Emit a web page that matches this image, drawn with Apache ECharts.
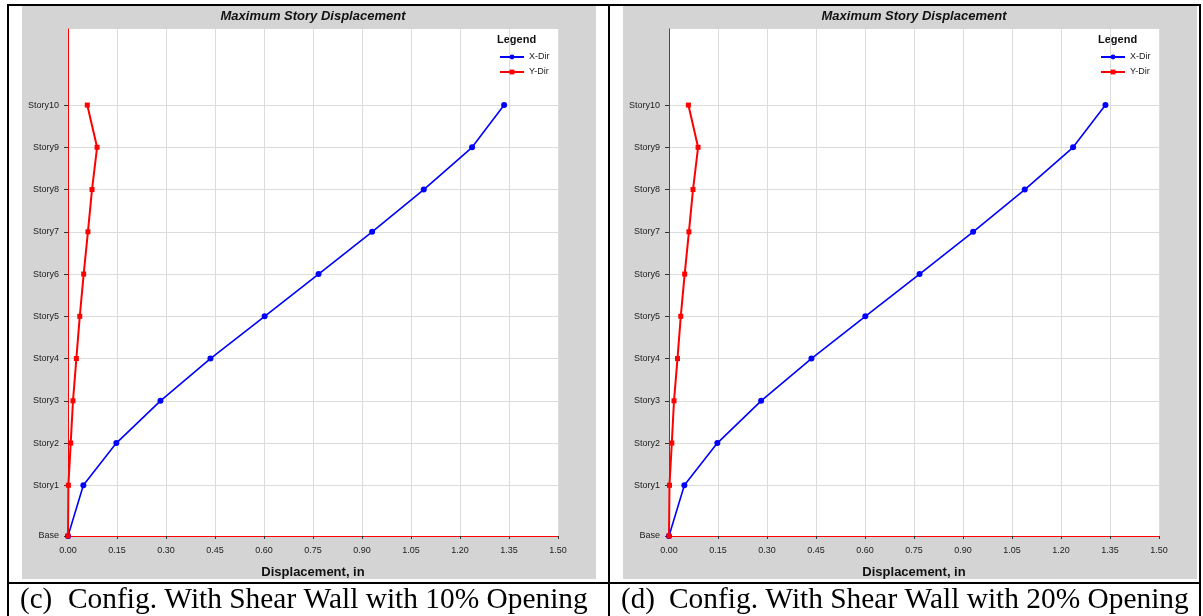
<!DOCTYPE html>
<html>
<head>
<meta charset="utf-8">
<script src="https://cdn.jsdelivr.net/npm/echarts@6/dist/echarts.min.js"></script>
<style>
html,body{margin:0;padding:0;background:#fff;}
#chart{width:1203px;height:616px;}
</style>
</head>
<body>
<div id="chart"></div>
<script>
// ---- data ----
const storyNames = ['Base','Story1','Story2','Story3','Story4','Story5','Story6','Story7','Story8','Story9','Story10'];
const storyElev = [0, 12, 22, 32, 42, 52, 62, 72, 82, 92, 102];
const xDirC = [0, 0.047, 0.148, 0.283, 0.436, 0.602, 0.767, 0.931, 1.089, 1.237, 1.335];
const yDirC = [0, 0.0012, 0.0083, 0.0153, 0.0256, 0.036, 0.048, 0.061, 0.0735, 0.089, 0.059];
const xDirD = [0, 0.047, 0.148, 0.282, 0.436, 0.601, 0.767, 0.931, 1.089, 1.237, 1.336];
const yDirD = [0, 0.0015, 0.0086, 0.0153, 0.026, 0.036, 0.048, 0.061, 0.0735, 0.089, 0.0594];
const xMin = 0, xMax = 1.5, xStep = 0.15;
const yMax = 120;
const chartTitle = 'Maximum Story Displacement';
const xAxisTitle = 'Displacement, in';
const legendTitle = 'Legend';
const seriesNames = ['X-Dir', 'Y-Dir'];
const captionTags = ['(c)', '(d)'];
const captionTexts = ['Config. With Shear Wall with 10% Opening', 'Config. With Shear Wall with 20% Opening'];

// ---- build ----
const SANS = "'Liberation Sans', Arial, sans-serif";
const SERIF = "'Liberation Serif', 'Times New Roman', serif";
const panels = [
  {dx: 0, xDir: xDirC, yDir: yDirC},
  {dx: 601, xDir: xDirD, yDir: yDirD}
];
const grids = [], xAxes = [], yAxes = [], series = [], legends = [], graphics = [];

panels.forEach((p, i) => {
  graphics.push({type:'rect', z:-10, shape:{x:22 + p.dx, y:6, width:574, height:573}, style:{fill:'#d4d4d4'}});
  graphics.push({type:'rect', z:-9, shape:{x:68 + p.dx, y:29, width:490, height:507}, style:{fill:'#ffffff'}});
  // red frame line on the left edge of the plot area (the vertical axis line)
  graphics.push({type:'line', z:40, shape:{x1:68.5 + p.dx, y1:29, x2:68.5 + p.dx, y2:536}, style:{stroke:'#ff0000', lineWidth:1}});
  graphics.push({type:'text', x:313 + p.dx, y:16, style:{text:chartTitle, font:"italic bold 13px " + SANS, fill:'#111', align:'center', verticalAlign:'middle'}});
  graphics.push({type:'text', x:497 + p.dx, y:40, style:{text:legendTitle, font:"bold 11px " + SANS, fill:'#111', align:'left', verticalAlign:'middle'}});
  graphics.push({type:'text', x:20 + p.dx, y:600, style:{text:captionTags[i], font:"29px " + SERIF, fill:'#000', align:'left', verticalAlign:'middle'}});
  graphics.push({type:'text', x:68 + p.dx, y:600, style:{text:captionTexts[i], font:"29.4px " + SERIF, fill:'#000', align:'left', verticalAlign:'middle'}});

  grids.push({left:68 + p.dx, top:29, width:490, height:507, containLabel:false});
  xAxes.push({
    type:'value', gridIndex:i, min:xMin, max:xMax, interval:xStep,
    name:xAxisTitle, nameLocation:'middle', nameGap:30,
    nameTextStyle:{fontFamily:SANS, fontWeight:'bold', fontSize:13, color:'#111'},
    axisLine:{show:true, onZero:false, lineStyle:{color:'#ff0000', width:1}},
    axisTick:{show:true, length:3, lineStyle:{color:'#333'}},
    axisLabel:{fontFamily:SANS, fontSize:9, color:'#222', margin:10, formatter:v => v.toFixed(2)},
    splitLine:{show:true, showMinLine:false, lineStyle:{color:'#dcdcdc', width:1}}
  });
  yAxes.push({
    type:'value', gridIndex:i, min:0, max:yMax,
    axisLine:{show:true, onZero:false, lineStyle:{color:'#ff0000', width:1}},
    axisTick:{show:true, length:4, customValues:storyElev, lineStyle:{color:'#333'}},
    axisLabel:{fontFamily:SANS, fontSize:9, color:'#222', margin:9, customValues:storyElev,
      formatter:v => { const k = storyElev.indexOf(v); return k >= 0 ? storyNames[k] : ''; }},
    splitLine:{show:true, showMinLine:false, lineStyle:{color:'#dcdcdc', width:1}}
  });
  series.push({
    name:seriesNames[0], type:'line', xAxisIndex:i, yAxisIndex:i,
    data:storyElev.map((e, k) => [p.xDir[k], e]),
    symbol:'circle', symbolSize:6, itemStyle:{color:'#0000ff'},
    lineStyle:{color:'#0000ff', width:1.6}, animation:false, z:6
  });
  series.push({
    name:seriesNames[1], type:'line', xAxisIndex:i, yAxisIndex:i,
    data:storyElev.map((e, k) => [p.yDir[k], e]),
    symbol:'rect', symbolSize:5, itemStyle:{color:'#ff0000'},
    lineStyle:{color:'#ff0000', width:2}, animation:false, z:7
  });
  legends.push({
    orient:'vertical', left:499 + p.dx, top:52.5, padding:0, itemWidth:24, itemHeight:6, itemGap:6,
    data:seriesNames, selectedMode:false,
    textStyle:{fontFamily:SANS, fontSize:9, color:'#222', lineHeight:9}
  });
});

const black = {stroke:'#000', lineWidth:2};
[
  [7, 5, 1201, 5],
  [8, 4, 8, 616],
  [609, 4, 609, 616],
  [1200, 4, 1200, 616],
  [7, 583, 1201, 583]
].forEach(l => graphics.push({type:'line', z:50, shape:{x1:l[0], y1:l[1], x2:l[2], y2:l[3]}, style:black}));

const chart = echarts.init(document.getElementById('chart'), null, {renderer:'canvas'});
chart.setOption({
  backgroundColor:'#ffffff',
  animation:false,
  grid:grids, xAxis:xAxes, yAxis:yAxes, series:series, legend:legends,
  graphic:{elements:graphics}
});
</script>
</body>
</html>
